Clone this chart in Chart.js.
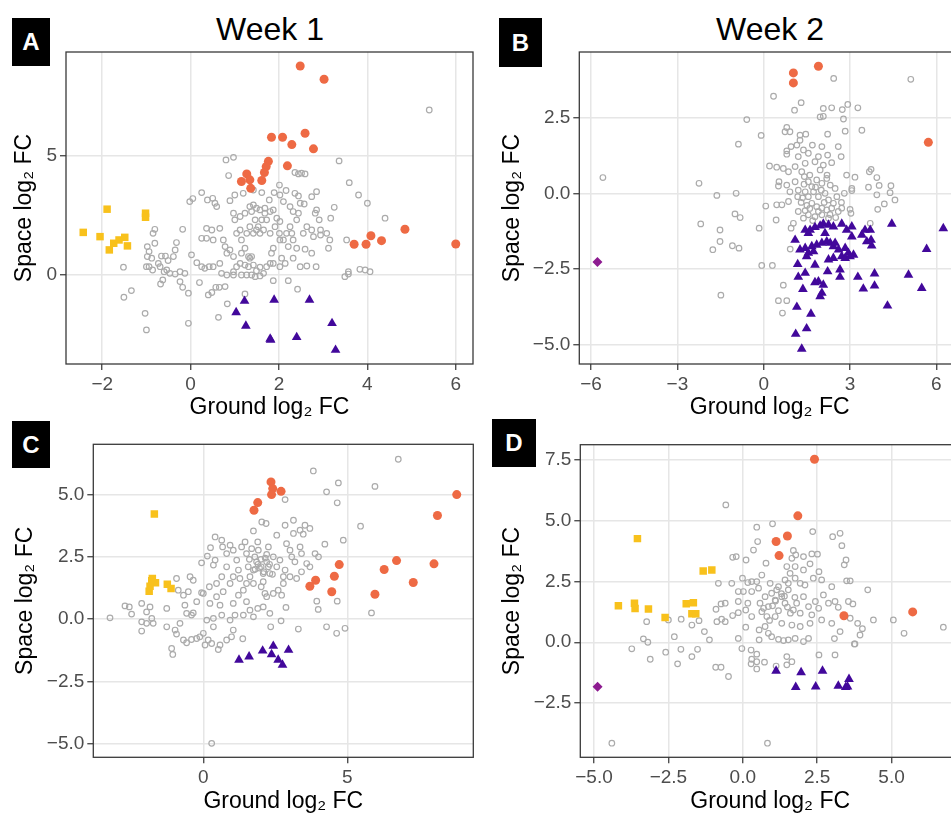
<!DOCTYPE html>
<html><head><meta charset="utf-8">
<script src="https://cdn.jsdelivr.net/npm/chart.js@4.4.1/dist/chart.umd.min.js"></script>
<style>
html,body{margin:0;padding:0;background:#fff;overflow:hidden;width:951px;height:814px;}
body{position:relative;font-family:"Liberation Sans",Arial,sans-serif;}
canvas{position:absolute;}
.tag{position:absolute;background:#000;color:#fff;font-weight:bold;font-size:24px;display:flex;align-items:center;justify-content:center;}
.week{position:absolute;font-size:32px;line-height:32px;color:#000;transform:translateX(-50%);white-space:nowrap;}
</style></head><body>
<div class="week" style="left:270px;top:13px">Week 1</div>
<div class="week" style="left:770px;top:13px">Week 2</div>
<canvas id="cA" width="480" height="421" style="left:0;top:0"></canvas>
<canvas id="cB" width="500" height="421" style="left:475px;top:0"></canvas>
<canvas id="cC" width="480" height="415" style="left:0;top:400px"></canvas>
<canvas id="cD" width="500" height="415" style="left:475px;top:400px"></canvas>
<div class="tag" style="left:12px;top:18px;width:38px;height:48px">A</div>
<div class="tag" style="left:499px;top:18px;width:43px;height:49px">B</div>
<div class="tag" style="left:12px;top:421px;width:38px;height:47px">C</div>
<div class="tag" style="left:492px;top:419px;width:44px;height:48px">D</div>
<script>
// ---------- Tick labels ----------
const ticksA_x = [-2, 0, 2, 4, 6];
const ticksA_y = [0, 5];
const ticksB_x = [-6, -3, 0, 3, 6];
const ticksB_y = [-5, -2.5, 0, 2.5];
const ticksC_x = [0, 5];
const ticksC_y = [-5, -2.5, 0, 2.5, 5];
const ticksD_x = [-5, -2.5, 0, 2.5, 5];
const ticksD_y = [-2.5, 0, 2.5, 5, 7.5];

// ---------- Panel A (Week 1) ----------
const A_up = [[2.48,8.80],[3.02,8.24],[1.83,5.79],[2.08,5.79],[2.59,5.96],[2.29,5.48],[2.78,5.30],[2.19,4.58],[1.76,4.77],[1.71,4.55],[1.67,4.30],[1.61,3.96],[1.27,4.24],[1.15,3.92],[1.34,3.99],[1.36,3.63],[3.70,1.27],[3.97,1.27],[4.08,1.63],[4.32,1.42],[4.85,1.90],[6.00,1.28]];
const A_groundDown = [[-2.43,1.77],[-2.05,1.59],[-1.89,2.75],[-1.84,1.03],[-1.74,1.31],[-1.62,1.45],[-1.49,1.56],[-1.43,1.20],[-1.02,2.58],[-1.02,2.41]];
const A_down = [[1.22,-1.13],[1.89,-1.08],[2.69,-1.08],[1.03,-1.61],[1.25,-2.18],[1.80,-2.73],[1.81,-2.77],[2.40,-2.66],[3.20,-2.07],[3.28,-3.20]];
const A_ns = [[5.40,6.94],[0.97,4.94],[0.80,4.83],[3.36,4.79],[0.86,4.17],[2.36,4.30],[2.44,4.24],[2.51,4.27],[2.59,4.24],[3.59,3.87],[3.80,3.35],[4.00,3.00],[4.40,2.37],[3.17,2.37],[3.25,2.83],[2.85,3.49],[2.74,3.28],[2.57,2.97],[0.25,3.45],[-0.02,3.07],[0.05,3.20],[0.38,3.14],[0.50,3.21],[0.55,3.00],[0.59,2.86],[0.89,3.11],[1.00,3.35],[1.19,3.42],[1.42,3.56],[1.61,3.45],[1.78,3.14],[1.89,3.45],[2.01,3.77],[2.02,3.35],[2.16,3.54],[2.36,3.42],[2.44,3.31],[-0.18,1.90],[-0.81,1.90],[-0.85,1.73],[-0.81,1.31],[-0.98,1.17],[-0.94,0.96],[-0.98,0.75],[-0.88,0.68],[-0.32,1.34],[-0.35,1.03],[-0.39,0.75],[-0.66,0.77],[-0.57,0.77],[-0.51,0.58],[-1.00,0.32],[-0.94,0.32],[-0.86,0.18],[-0.73,0.46],[-0.69,0.32],[-0.60,0.11],[-0.54,0.18],[-0.47,0.04],[-0.35,0.01],[-0.24,0.11],[-0.13,0.04],[-1.52,0.30],[-1.51,-0.97],[-1.34,-0.69],[-1.03,-1.65],[-1.00,-2.35],[-0.63,-0.24],[-0.68,-0.41],[-0.24,-0.31],[-0.18,-0.55],[-0.05,-0.80],[0.02,0.82],[0.14,0.49],[0.20,-0.35],[0.25,0.32],[0.32,0.25],[0.42,0.32],[0.40,-0.87],[0.48,-0.77],[0.57,-0.55],[0.65,-0.55],[0.78,-0.52],[0.63,-1.82],[-0.05,-2.07],[0.83,-1.25],[1.23,-0.83],[1.87,-0.27],[2.21,-0.27],[2.42,-0.63],[0.51,0.32],[0.66,0.46],[0.70,0.04],[0.82,-0.03],[0.97,0.11],[1.04,0.32],[1.12,0.46],[1.23,0.39],[1.31,0.32],[1.34,0.68],[1.42,0.39],[1.49,0.15],[1.57,0.30],[1.65,0.04],[1.72,0.32],[0.97,-0.03],[1.15,-0.03],[1.27,-0.03],[1.38,-0.03],[1.46,-0.10],[1.57,-0.07],[0.36,1.94],[0.48,1.87],[0.25,1.52],[0.36,1.52],[0.51,1.45],[0.66,1.94],[0.74,1.45],[0.78,1.17],[0.82,0.89],[0.89,1.03],[0.97,0.75],[1.04,1.73],[1.12,1.87],[1.15,1.45],[1.27,1.73],[1.34,2.01],[1.42,1.73],[1.46,2.30],[1.49,1.87],[1.53,2.01],[1.57,1.73],[1.61,2.30],[1.65,1.87],[1.68,2.58],[1.72,2.30],[1.80,1.73],[1.87,2.72],[1.91,2.01],[2.01,1.73],[2.02,1.45],[2.10,1.45],[2.17,1.73],[2.25,2.01],[2.29,1.73],[2.32,1.45],[2.40,2.30],[2.44,2.58],[2.55,1.73],[2.63,2.01],[2.74,1.87],[2.78,1.59],[2.82,2.58],[2.85,2.72],[2.91,2.30],[2.94,1.87],[2.94,1.66],[2.84,0.32],[2.63,0.35],[2.48,0.32],[2.74,0.89],[2.59,1.06],[2.40,1.10],[2.21,1.17],[2.06,0.68],[1.87,1.10],[1.83,0.89],[1.80,0.46],[1.87,0.46],[2.02,0.32],[2.14,0.46],[2.32,0.68],[1.95,2.37],[2.02,2.23],[0.97,2.58],[1.00,2.30],[1.12,2.44],[1.23,2.58],[1.34,2.86],[1.38,2.65],[1.42,2.93],[1.49,2.79],[1.57,2.72],[1.68,2.79],[1.80,2.65],[2.10,3.07],[2.25,2.86],[2.32,2.65],[2.48,3.00],[3.53,1.45],[3.49,-0.10],[3.57,0.01],[3.83,0.21],[3.95,0.18],[4.06,0.11],[3.57,0.11],[3.08,1.73],[3.15,1.45],[3.12,1.10],[1.15,0.89],[1.31,0.75],[1.38,0.75],[1.23,1.10]];

// ---------- Panel B (Week 2) ----------
const B_up = [[1.03,3.97],[1.03,3.64],[1.90,4.19],[5.72,1.68]];
const B_spaceOnlyDown = [[-5.78,-2.27]];
const B_down = [[1.44,-1.21],[1.55,-1.32],[1.78,-1.12],[1.96,-1.07],[2.07,-1.01],[2.25,-1.04],[2.42,-1.10],[2.71,-1.01],[2.88,-1.21],[3.06,-1.10],[3.41,-1.37],[3.52,-1.21],[3.70,-1.21],[3.73,-1.54],[4.45,-1.01],[6.24,-1.16],[5.66,-1.84],[1.09,-1.54],[3.06,-1.43],[1.26,-1.86],[1.44,-1.81],[1.55,-1.97],[1.67,-1.75],[1.84,-1.70],[2.02,-1.64],[2.19,-1.59],[2.31,-1.64],[2.42,-1.75],[2.60,-1.86],[2.83,-1.81],[2.94,-1.97],[3.12,-2.03],[3.75,-1.73],[3.58,-1.59],[1.49,-2.08],[1.78,-2.36],[2.25,-2.19],[2.42,-2.14],[2.71,-2.08],[2.83,-2.14],[3.00,-2.08],[1.18,-2.34],[1.44,-2.63],[1.20,-2.76],[2.22,-2.58],[2.65,-2.52],[2.65,-2.76],[3.27,-2.76],[3.85,-2.65],[5.03,-2.69],[1.78,-2.94],[2.07,-3.02],[1.90,-2.91],[1.36,-3.16],[2.02,-3.29],[1.96,-3.40],[3.46,-3.15],[3.85,-3.05],[5.49,-3.13],[1.15,-3.75],[1.64,-3.98],[4.30,-3.71],[1.49,-4.46],[1.11,-4.64],[1.32,-5.13],[1.61,-1.21],[2.13,-1.32],[2.48,-1.64],[1.73,-1.92]];
const B_ns = [[-5.59,0.52],[-2.25,0.33],[-1.63,-0.07],[-0.96,0.00],[-0.59,2.43],[-0.88,1.62],[-0.09,1.91],[0.34,3.20],[1.30,2.99],[1.07,2.74],[2.43,3.79],[5.11,3.76],[2.07,2.80],[2.36,2.82],[2.73,2.76],[2.92,2.93],[3.27,2.82],[1.96,2.52],[2.07,2.54],[2.77,2.45],[2.83,2.05],[3.41,2.08],[2.22,1.95],[0.80,2.17],[0.91,2.03],[0.74,2.03],[1.26,1.92],[1.46,1.95],[1.26,1.75],[1.15,1.59],[0.95,1.54],[0.80,1.40],[0.80,1.29],[1.38,1.43],[1.69,1.59],[2.02,1.54],[2.59,1.54],[2.22,1.26],[2.36,1.01],[2.69,1.21],[0.20,0.90],[0.45,0.86],[0.68,0.82],[0.86,0.71],[1.09,0.88],[1.44,0.99],[1.78,1.04],[2.07,0.93],[3.73,0.79],[3.67,0.71],[2.88,0.60],[3.17,0.53],[3.93,0.52],[4.01,0.26],[4.42,0.25],[4.39,0.02],[4.56,-0.22],[4.19,-0.35],[3.93,-0.05],[3.96,-0.53],[3.64,0.20],[3.06,0.16],[3.06,0.09],[2.80,0.00],[0.53,0.38],[0.51,0.24],[0.80,0.27],[1.09,0.38],[0.91,0.05],[1.18,-0.11],[0.86,-0.27],[0.63,-0.38],[0.45,-0.38],[0.07,-0.42],[0.43,-0.88],[1.41,0.55],[1.55,0.38],[1.67,0.22],[1.84,0.44],[2.02,0.33],[2.19,0.49],[2.31,0.27],[2.48,0.16],[2.54,-0.11],[1.44,0.05],[1.55,-0.11],[1.73,0.05],[1.90,-0.11],[2.13,0.00],[2.25,-0.22],[2.42,-0.33],[1.67,-0.33],[1.84,-0.44],[2.02,-0.49],[2.19,-0.55],[2.36,-0.49],[2.59,-0.60],[2.71,-0.49],[3.00,-0.53],[3.03,-0.66],[1.44,-0.57],[1.55,-0.71],[1.78,-0.77],[2.02,-0.71],[1.38,-0.82],[2.25,-0.82],[1.03,-0.99],[0.95,-1.15],[3.70,-0.99],[-2.19,-1.01],[-1.52,-1.21],[-1.52,-1.59],[-1.77,-1.86],[-1.00,-0.68],[-0.82,-0.80],[-1.09,-1.73],[-0.86,-1.81],[-0.16,-1.15],[0.92,-1.84],[-0.07,-2.38],[0.30,-2.38],[0.68,-3.03],[0.51,-3.54],[0.80,-3.54],[0.65,-3.95],[-1.49,-3.36],[1.20,1.21],[1.55,1.32],[1.90,1.21],[1.32,0.71],[1.96,0.77],[1.20,-0.60],[1.30,-0.30],[1.60,-0.50],[1.70,-0.90],[1.90,-0.60],[2.10,-0.30],[2.30,-0.70],[2.50,-0.80],[2.70,-0.30],[1.40,0.30],[1.60,0.60],[1.80,0.20],[2.00,0.10],[2.20,0.60],[1.20,0.10],[1.35,-0.15],[1.50,-0.40]];

// ---------- Panel C (Week 1) ----------
const C_up = [[2.35,5.51],[2.41,5.24],[2.37,5.00],[2.70,5.13],[1.89,4.68],[1.76,4.37],[8.80,5.00],[8.13,4.16],[8.01,2.22],[6.71,2.35],[6.28,1.99],[7.29,1.47],[5.96,1.00],[4.72,2.19],[4.55,1.72],[4.46,1.10],[3.90,1.56],[3.70,1.32]];
const C_groundDown = [[-1.70,4.22],[-1.79,1.54],[-1.66,1.46],[-1.85,1.32],[-1.88,1.12],[-1.25,1.40],[-1.12,1.23],[-1.77,1.63]];
const C_down = [[1.24,-1.64],[1.59,-1.51],[2.06,-1.27],[2.43,-1.08],[2.37,-1.42],[2.60,-1.64],[2.75,-1.84],[2.96,-1.24]];
const C_ns = [[6.77,6.42],[3.82,5.95],[4.69,5.47],[4.28,5.11],[5.96,5.33],[4.65,4.67],[2.84,4.80],[5.46,3.73],[4.86,3.17],[4.22,3.01],[5.84,0.25],[4.65,0.72],[3.94,0.72],[3.99,0.39],[4.28,-0.31],[4.63,-0.57],[4.92,-0.37],[3.30,-0.40],[2.70,-0.07],[2.34,-0.31],[2.87,0.47],[-3.24,0.05],[-2.72,0.53],[-2.57,0.49],[-2.49,0.20],[-2.14,0.63],[-2.14,-0.11],[-2.14,-0.48],[-1.97,-0.17],[-1.79,0.03],[-1.74,-0.17],[-1.85,0.49],[-1.97,0.29],[-1.27,0.43],[-1.27,-0.31],[-1.10,-1.18],[-1.06,-1.42],[-0.98,-0.44],[-0.93,-0.60],[-0.81,-0.17],[-0.64,0.56],[-0.58,0.23],[-0.41,0.16],[-0.35,0.25],[-0.69,-0.84],[-0.58,-0.95],[-0.41,-0.82],[-0.23,-0.78],[-0.12,-0.71],[0.00,-0.57],[0.17,-0.84],[0.29,-0.98],[0.06,-1.04],[0.52,-1.22],[0.58,-1.04],[0.81,-0.84],[0.98,-0.71],[1.37,-0.79],[1.04,-0.44],[0.35,-0.31],[0.12,-0.04],[0.35,0.03],[0.64,0.16],[0.93,-0.04],[1.10,0.16],[1.39,0.16],[1.62,0.36],[1.74,0.09],[2.08,0.49],[1.89,0.43],[-0.93,1.63],[-0.87,1.16],[-0.69,0.96],[-0.46,1.70],[-0.35,1.56],[-0.52,1.10],[-0.23,0.70],[-0.06,1.06],[0.00,1.03],[0.21,1.30],[0.23,0.63],[0.46,0.90],[0.58,0.56],[0.69,1.10],[-0.06,2.26],[0.14,2.53],[0.25,2.87],[0.41,2.37],[0.41,3.30],[0.35,2.17],[0.64,3.17],[0.67,2.90],[0.81,2.63],[0.93,2.97],[1.04,2.77],[1.16,2.37],[1.33,2.90],[1.50,2.63],[1.45,3.10],[1.74,3.54],[2.03,3.90],[2.18,3.84],[1.89,3.10],[2.26,2.90],[2.55,3.37],[2.84,3.77],[3.13,3.97],[3.13,3.44],[3.36,3.57],[3.53,3.77],[3.70,3.64],[3.47,3.41],[2.89,3.03],[3.01,2.77],[3.07,2.50],[3.36,2.90],[3.41,2.63],[3.59,2.23],[3.88,2.63],[4.00,2.50],[3.70,2.10],[3.41,1.90],[3.24,1.63],[3.01,1.70],[2.78,1.43],[2.60,1.16],[2.72,0.96],[2.43,1.03],[2.14,1.03],[2.08,1.50],[2.31,1.83],[2.55,2.10],[2.66,2.37],[2.43,2.50],[2.20,2.30],[2.01,2.10],[1.85,2.30],[1.74,1.97],[1.62,1.70],[1.50,1.43],[1.39,1.16],[1.22,0.96],[1.04,1.70],[1.22,1.97],[0.93,1.43],[0.81,2.10],[0.64,1.70],[0.46,1.43],[1.74,1.43],[2.01,1.30],[1.27,1.63],[1.56,2.10],[2.08,1.83],[2.26,2.10],[1.79,2.50],[1.91,2.77],[1.68,2.83],[1.04,0.63],[1.50,0.70],[2.31,0.23],[2.20,0.90],[2.78,1.70],[2.84,1.97],[3.18,2.30],[0.29,-4.99],[1.90,2.20],[2.00,2.40],[2.10,1.90],[2.20,2.60],[1.80,2.00],[2.30,2.20],[1.60,2.40],[2.40,1.80],[1.95,2.05],[2.15,2.45]];

// ---------- Panel D (Week 2) ----------
const D_up = [[2.41,7.54],[1.85,5.21],[1.50,4.38],[1.12,4.15],[1.22,3.57],[3.40,1.09],[5.71,1.25]];
const D_spaceOnlyDown = [[-4.88,-1.83]];
const D_groundDown = [[-3.54,4.27],[-4.18,1.50],[-3.64,1.61],[-3.62,1.39],[-3.17,1.37],[-2.61,1.02],[-1.33,2.94],[-1.04,2.98],[-1.90,1.59],[-1.66,1.63],[-1.71,1.17],[-1.58,1.17]];
const D_down = [[1.12,-1.18],[1.96,-1.24],[2.68,-1.18],[1.78,-1.85],[2.45,-1.83],[3.21,-1.80],[3.46,-1.85],[3.57,-1.52],[3.52,-1.83]];
const D_ns = [[-0.57,5.66],[-4.40,-4.16],[0.83,-4.16],[6.74,0.62],[5.42,0.37],[5.06,0.92],[4.39,0.92],[4.20,2.16],[3.77,-0.07],[3.10,-0.52],[2.56,-0.52],[2.35,4.56],[3.02,4.35],[3.27,4.49],[3.33,3.98],[0.50,4.15],[1.00,4.88],[0.47,4.74],[0.36,3.80],[0.78,3.26],[-0.34,3.50],[-0.22,3.53],[0.11,3.39],[2.32,3.64],[2.51,3.63],[2.26,3.23],[2.04,3.53],[1.70,3.78],[1.78,3.60],[3.47,3.39],[3.41,3.19],[3.49,2.53],[3.61,2.53],[2.99,2.29],[2.56,2.91],[2.37,2.64],[2.65,2.57],[3.55,1.68],[3.70,1.58],[3.86,0.78],[4.02,0.56],[3.94,0.30],[3.75,-0.07],[3.61,0.99],[3.27,0.44],[3.08,0.15],[2.99,0.78],[3.10,1.68],[3.21,1.44],[2.88,1.61],[2.71,1.95],[-0.82,2.43],[-0.37,2.43],[-0.01,2.64],[0.17,2.46],[0.30,2.50],[0.30,2.09],[-0.15,2.09],[0.02,2.09],[-0.15,1.68],[-0.59,1.61],[-0.73,1.58],[-0.90,1.36],[-0.34,1.10],[-0.71,0.95],[-0.59,0.85],[-0.15,1.22],[0.10,1.33],[0.17,1.61],[0.30,1.06],[0.10,0.62],[-0.15,0.16],[-0.03,-0.26],[0.28,-0.32],[0.30,-0.70],[0.47,-0.49],[0.47,-0.80],[0.28,-0.89],[0.47,-1.10],[0.73,-0.82],[0.55,0.10],[0.55,0.51],[0.75,0.65],[0.86,0.37],[0.97,0.23],[1.20,0.12],[1.37,0.07],[1.53,0.10],[1.76,0.16],[2.04,0.03],[2.21,0.16],[1.48,-0.59],[1.65,-0.80],[1.48,-0.93],[1.12,-0.98],[-0.91,-1.03],[-0.73,-1.03],[-0.48,-1.41],[0.75,1.88],[0.58,1.61],[0.64,1.26],[0.86,1.47],[0.81,1.06],[0.97,2.02],[1.14,2.16],[1.09,1.74],[1.31,1.88],[1.42,1.61],[1.53,2.16],[1.70,1.33],[1.81,1.61],[1.93,1.20],[2.04,1.88],[2.21,1.47],[2.32,1.13],[2.44,1.68],[2.55,1.40],[2.65,0.92],[2.26,0.78],[1.93,0.65],[1.65,0.71],[1.31,0.78],[1.09,1.06],[1.48,3.12],[1.59,2.84],[1.42,2.57],[1.53,2.43],[1.76,2.64],[1.93,2.43],[2.09,2.36],[1.20,2.29],[0.92,2.43],[0.64,2.77],[0.47,2.50],[0.53,2.23],[2.04,2.98],[1.76,3.12],[1.65,3.46],[-3.23,0.85],[-2.50,0.92],[-2.07,0.95],[-1.71,0.71],[-1.47,0.89],[-1.29,0.44],[-1.12,0.10],[-2.30,0.23],[-3.34,0.14],[-3.19,0.00],[-3.73,-0.27],[-3.11,-0.70],[-2.59,-0.41],[-2.08,-0.29],[-2.19,-0.89],[-1.71,-0.59],[-1.52,-0.29],[-0.87,0.85],[1.00,1.50],[1.20,1.30],[1.40,1.90],[1.60,1.20],[0.90,0.90],[1.10,1.70],[1.30,2.00],[1.50,1.45],[1.75,1.85],[0.70,1.40]];

// ---------- Rendering ----------
const FONT = '"Liberation Sans", Arial, Helvetica, sans-serif';
const COL = {up:'#ee6a44', groundDown:'#f8c11c', down:'#42089b', spaceOnly:'#8d1b90', ns:'#ababab'};

const frame = {
  id:'frame',
  afterDraw(chart){
    const {ctx, chartArea:a} = chart;
    ctx.save();
    ctx.strokeStyle = '#3a3a3a';
    ctx.lineWidth = 1.3;
    ctx.strokeRect(a.left, a.top, a.right - a.left, a.bottom - a.top);
    ctx.restore();
  }
};

function pts(arr){ return arr.map(p => ({x:p[0], y:p[1]})); }
function fmt(v, dec){ const s = Math.abs(v).toFixed(dec); return (v < -1e-9 ? '\u2212' : '') + s; }

function axis(ticks, dec, min, max, fitKey, fitVal, titleText){
  return {
    type:'linear', min:min, max:max,
    afterBuildTicks: a => { a.ticks = ticks.map(v => ({value:v})); },
    afterFit: a => { a[fitKey] = fitVal; },
    grid:{color:'#e6e6e6', lineWidth:1.5, drawTicks:true, tickLength:6, tickColor:'#333333', tickWidth:1.2},
    border:{display:false},
    ticks:{font:{family:FONT, size:19}, color:'#4d4d4d', padding:3, autoSkip:false, maxRotation:0, minRotation:0,
           callback: v => fmt(v, dec)},
    title:{display:true, text:titleText, font:{family:FONT, size:23}, color:'#000', padding:0}
  };
}

function makePanel(id, groups, sc){
  const datasets = [];
  if (groups.up) datasets.push({data:pts(groups.up), pointStyle:'circle', pointRadius:4.5, backgroundColor:COL.up, borderColor:COL.up, borderWidth:0});
  if (groups.groundDown) datasets.push({data:pts(groups.groundDown), pointStyle:'rect', pointRadius:5.3, backgroundColor:COL.groundDown, borderColor:COL.groundDown, borderWidth:0});
  if (groups.down) datasets.push({data:pts(groups.down), pointStyle:'triangle', pointRadius:5.6, backgroundColor:COL.down, borderColor:COL.down, borderWidth:0});
  if (groups.spaceOnly) datasets.push({data:pts(groups.spaceOnly), pointStyle:'rectRot', pointRadius:5, backgroundColor:COL.spaceOnly, borderColor:COL.spaceOnly, borderWidth:0});
  datasets.push({data:pts(groups.ns), pointStyle:'circle', pointRadius:2.8, backgroundColor:'rgba(0,0,0,0)', borderColor:COL.ns, borderWidth:1.2});
  new Chart(document.getElementById(id), {
    type:'scatter',
    data:{datasets:datasets},
    options:{
      responsive:false, animation:false, events:[],
      layout:{padding:sc.pad},
      plugins:{legend:{display:false}, tooltip:{enabled:false}},
      elements:{point:{hoverRadius:0}},
      scales:{
        x: axis(sc.xt, sc.xd, sc.xmin, sc.xmax, 'height', sc.xh, 'Ground log\u2082 FC'),
        y: axis(sc.yt, sc.yd, sc.ymin, sc.ymax, 'width', sc.yw, 'Space log\u2082 FC')
      }
    },
    plugins:[frame]
  });
}

makePanel('cA', {up:A_up, groundDown:A_groundDown, down:A_down, ns:A_ns},
  {xt:ticksA_x, xd:0, xmin:-2.82, xmax:6.39, yt:ticksA_y, yd:0, ymin:-3.79, ymax:9.39,
   pad:{left:11.3, top:52, right:7, bottom:0}, yw:54.7, xh:57});
makePanel('cB', {up:B_up, spaceOnly:B_spaceOnlyDown, down:B_down, ns:B_ns},
  {xt:ticksB_x, xd:0, xmin:-6.41, xmax:6.82, yt:ticksB_y, yd:1, ymin:-5.63, ymax:4.66,
   pad:{left:23.6, top:52, right:15, bottom:0}, yw:80.7, xh:57});
makePanel('cC', {up:C_up, groundDown:C_groundDown, down:C_down, ns:C_ns},
  {xt:ticksC_x, xd:0, xmin:-3.82, xmax:9.375, yt:ticksC_y, yd:1, ymin:-5.55, ymax:7.02,
   pad:{left:11.9, top:44.3, right:6.7, bottom:0}, yw:81.4, xh:57.7});
makePanel('cD', {up:D_up, groundDown:D_groundDown, spaceOnly:D_spaceOnlyDown, down:D_down, ns:D_ns},
  {xt:ticksD_x, xd:1, xmin:-5.46, xmax:7.30, yt:ticksD_y, yd:1, ymin:-4.74, ymax:8.14,
   pad:{left:23.6, top:44.7, right:15, bottom:0}, yw:81.7, xh:57.7});
</script>
</body></html>
